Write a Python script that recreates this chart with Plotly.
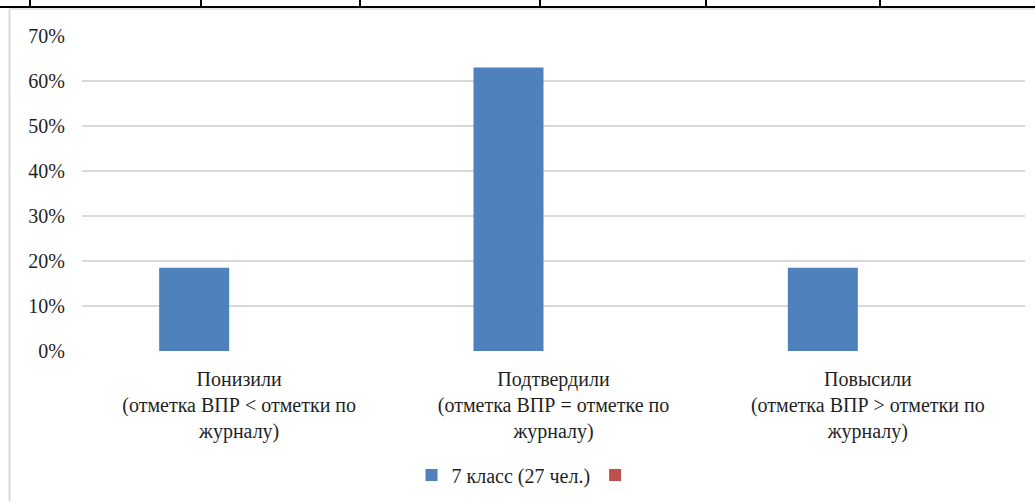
import plotly.graph_objects as go

categories = [
    "Понизили<br>(отметка ВПР < отметки по<br>журналу)",
    "Подтвердили<br>(отметка ВПР = отметке по<br>журналу)",
    "Повысили<br>(отметка ВПР > отметки по<br>журналу)",
]
class7 = [0.185, 0.63, 0.185]
series2 = [None, None, None]
y_ticks = [0, 0.1, 0.2, 0.3, 0.4, 0.5, 0.6, 0.7]

W, H = 1035, 503
L, R, T, B = 82, 10, 36, 151
pw, ph = W - L - R, H - T - B


def px(x):
    return (x - L) / pw


def py(y):
    return (H - B - y) / ph


font = dict(family="Liberation Serif", size=20, color="#1f1f1f")

fig = go.Figure()
fig.add_trace(go.Bar(x=categories, y=class7, name="7 класс (27 чел.)",
                     marker=dict(color="#4f81bd", line=dict(width=0)),
                     width=0.2227, offset=-0.2545))
fig.add_trace(go.Bar(x=categories, y=series2, name="",
                     marker=dict(color="#c0504d", line=dict(width=0)),
                     width=0.2227, offset=-0.0318))

shapes = []
# table border above the chart
shapes.append(dict(type="line", xref="paper", yref="paper", x0=px(0), x1=px(W), y0=py(7), y1=py(7),
                   line=dict(color="black", width=2)))
for vx in [30, 201, 360, 540, 706, 880]:
    shapes.append(dict(type="line", xref="paper", yref="paper", x0=px(vx), x1=px(vx), y0=py(0), y1=py(7),
                       line=dict(color="black", width=2)))
# chart area frame
shapes.append(dict(type="line", xref="paper", yref="paper", x0=px(9.5), x1=px(9.5), y0=py(9), y1=py(H),
                   line=dict(color="#d9d9d9", width=2)))
shapes.append(dict(type="line", xref="paper", yref="paper", x0=px(9.5), x1=px(W), y0=py(9), y1=py(9),
                   line=dict(color="#e6e6e6", width=2)))

fig.update_layout(
    width=W, height=H,
    margin=dict(l=L, r=R, t=T, b=B),
    paper_bgcolor="white", plot_bgcolor="white",
    font=font,
    barmode="overlay",
    showlegend=True,
    legend=dict(orientation="h", x=px(526), xanchor="center", y=py(475), yanchor="middle",
                font=dict(size=20), itemwidth=30, bgcolor="rgba(0,0,0,0)"),
    shapes=shapes,
)
fig.update_xaxes(showgrid=False, showline=False, zeroline=False, ticks="", tickangle=0,
                 ticklabelstandoff=14)
fig.update_yaxes(range=[0, 0.7], tickvals=y_ticks, tickformat=".0%", showgrid=True,
                 gridcolor="#d9d9d9", gridwidth=2, zeroline=False, showline=False, ticks="",
                 ticklabelstandoff=16)

# drop the default 8px body margin so the figure fills the window exactly
fig.write_html("out.html", config={"displayModeBar": False},
               post_script="document.body.style.margin = '0';")
